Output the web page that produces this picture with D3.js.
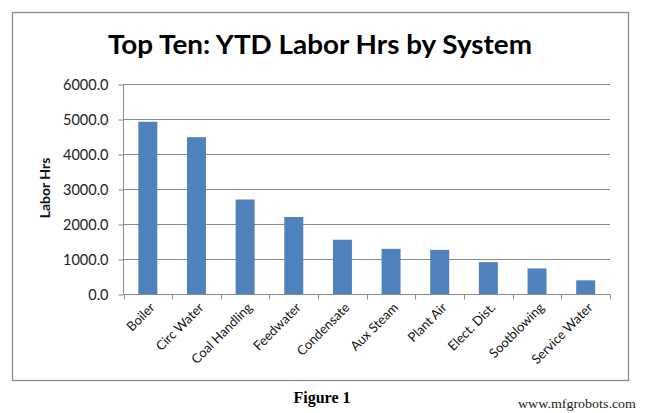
<!DOCTYPE html>
<html>
<head>
<meta charset="utf-8">
<script src="https://cdn.jsdelivr.net/npm/d3@7"></script>
<style>
html,body{margin:0;padding:0;background:#fff;}
svg{display:block;}
</style>
</head>
<body>
<svg id="chart" width="647" height="413"></svg>
<script>
const categories = ["Boiler","Circ Water","Coal Handling","Feedwater","Condensate","Aux Steam","Plant Air","Elect. Dist.","Sootblowing","Service Water"];
const laborHrs = [4920,4480,2700,2200,1550,1290,1260,910,730,390];
const yTicks = [0,1000,2000,3000,4000,5000,6000];
const titleText = "Top Ten: YTD Labor Hrs by System";
const yTitle = "Labor Hrs";
const captionText = "Figure 1";
const watermark = "www.mfgrobots.com";

const svg = d3.select("#chart");
const font = "Lato, 'Open Sans', 'DejaVu Sans', sans-serif";
const axisColor = "#8a8a8a";

// outer frame
svg.append("rect").attr("x",12.5).attr("y",12.5).attr("width",616).attr("height",368)
  .attr("fill","#fff").attr("stroke","#8c8c8c").attr("stroke-width",1.3);

const x = d3.scaleBand().domain(categories).range([123.5,610]).padding(0);
const y = d3.scaleLinear().domain([0,6000]).range([294,84]);

// gridlines
svg.append("g").selectAll("line").data(yTicks.filter(d=>d>0)).join("line")
  .attr("x1",123.5).attr("x2",610).attr("y1",d=>Math.round(y(d))+0.5).attr("y2",d=>Math.round(y(d))+0.5)
  .attr("stroke",axisColor).attr("stroke-width",1);

// bars
const barFrac = 0.39;
svg.append("g").selectAll("rect").data(categories).join("rect")
  .attr("x",(d)=>x(d)+x.bandwidth()*(1-barFrac)/2)
  .attr("width",x.bandwidth()*barFrac)
  .attr("y",(d,i)=>y(laborHrs[i]))
  .attr("height",(d,i)=>y(0)-y(laborHrs[i]))
  .attr("fill","#4F81BD");

// y axis
const yAxis = d3.axisLeft(y).tickValues(yTicks).tickSize(5).tickPadding(10).tickFormat(d3.format(".1f"));
const gy = svg.append("g").attr("transform","translate(123.5,0.5)").call(yAxis);
gy.select(".domain").attr("stroke",axisColor).attr("d","M0,"+(y(6000)-0.5)+"V"+(y(0)-0.5));
gy.selectAll(".tick line").attr("stroke",axisColor);
gy.selectAll(".tick text").attr("font-family",font).attr("font-size",14.5).attr("fill","#222");

// x axis
const gx = svg.append("g").attr("transform","translate(0,294.5)");
gx.append("line").attr("x1",123.5).attr("x2",610).attr("stroke",axisColor);
const bounds = categories.map(c=>x(c)).concat([x.range()[1]]);
gx.selectAll("line.t").data(bounds).join("line").attr("class","t")
  .attr("x1",d=>Math.round(d)+0.5).attr("x2",d=>Math.round(d)+0.5).attr("y1",0).attr("y2",5)
  .attr("stroke",axisColor);
gx.selectAll("text").data(categories).join("text")
  .attr("transform",d=>`translate(${x(d)+x.bandwidth()/2+1},${7}) rotate(-45)`)
  .attr("text-anchor","end").attr("dy","0.75em")
  .attr("font-family",font).attr("font-size",13).attr("fill","#111")
  .text(d=>d);

// y title
svg.append("text").attr("transform","translate(50,188) rotate(-90)")
  .attr("text-anchor","middle").attr("font-family",font).attr("font-weight","bold")
  .attr("font-size",14).attr("fill","#111").text(yTitle);

// title
svg.append("text").attr("x",108).attr("y",54)
  .attr("font-family",font).attr("font-weight","bold").attr("font-size",27)
  .attr("textLength",424).attr("lengthAdjust","spacingAndGlyphs")
  .attr("fill","#000").text(titleText);

// caption
svg.append("text").attr("x",322).attr("y",403).attr("text-anchor","middle")
  .attr("font-family","'Liberation Serif','Times New Roman',serif").attr("font-weight","bold")
  .attr("font-size",16).attr("fill","#000").text(captionText);

svg.append("text").attr("x",518).attr("y",408)
  .attr("font-family","'Liberation Serif','Times New Roman',serif")
  .attr("font-size",13).attr("textLength",118).attr("lengthAdjust","spacingAndGlyphs")
  .attr("fill","#222").text(watermark);
</script>
</body>
</html>
